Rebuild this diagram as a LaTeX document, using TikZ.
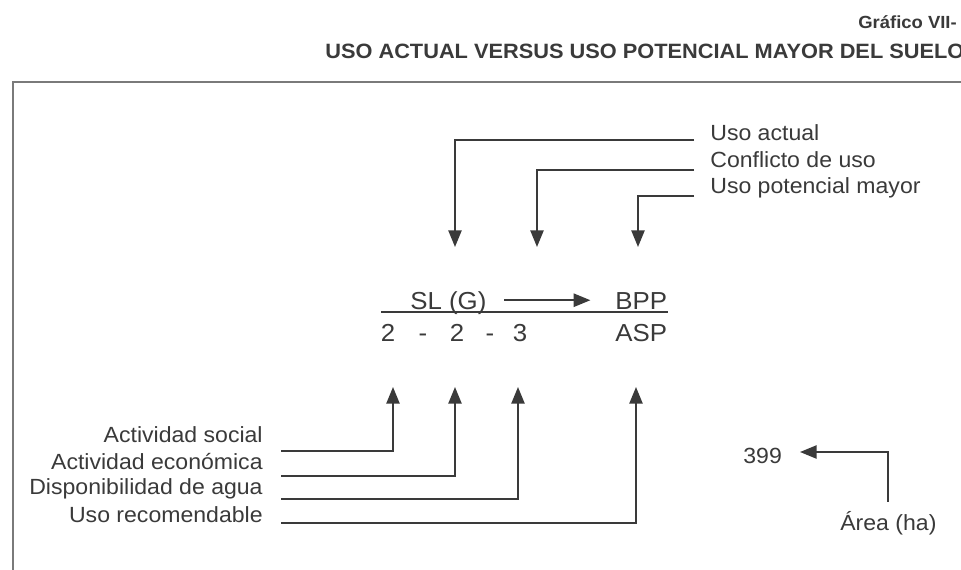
\documentclass[tikz,border=0pt]{standalone}
\usepackage{fontspec}
\setmainfont{Liberation Sans}[FakeStretch=1.05]
\usepackage{tikz}
\usetikzlibrary{arrows.meta}
\usetikzlibrary{positioning}
\definecolor{ink}{HTML}{3A3A3A}
\definecolor{rule}{HTML}{7A7A7A}
\tikzstyle{textNode} = [inner sep=0pt, text=ink, font=\fontsize{12.5}{15}\selectfont]
\tikzstyle{formulaNode} = [inner sep=0pt, text=ink, font=\fontsize{14}{17}\selectfont]
\tikzstyle{titleNode} = [inner sep=0pt, text=ink, font=\bfseries\fontsize{11.8}{14}\selectfont]
\tikzstyle{subtitleNode} = [inner sep=0pt, text=ink, font=\bfseries\fontsize{10}{12}\selectfont]
\tikzstyle{arrow} = [line width=1.1pt, draw=ink, ->, >={Triangle[length=9.5pt,width=7.5pt]}]
\tikzstyle{link} = [line width=1.1pt, draw=ink]
\tikzstyle{frame} = [line width=1.2pt, draw=rule]

\begin{document}
\begin{tikzpicture}[x=0.02cm, y=-0.02cm]
\useasboundingbox [fill=white] (0,0) rectangle (961,569);
% headings and frame
\node (grafico) [subtitleNode, anchor=base west] at (858,28) {Gráfico VII-};
\node (titulo) [titleNode, anchor=base west] at (325,58) {USO ACTUAL VERSUS USO POTENCIAL MAYOR DEL SUELO};
\draw [frame] (13,575) -- (13,82) -- (975,82);

% code of the unit
\node (sl) [formulaNode, anchor=base west] at (410,309) {SL (G)};
\node (bpp) [formulaNode, anchor=base west] at (615,309) {BPP};
\node (d1) [formulaNode, anchor=base] at (388,341) {2};
\node (g1) [formulaNode, anchor=base] at (423,341) {-};
\node (d2) [formulaNode, anchor=base] at (457,341) {2};
\node (g2) [formulaNode, anchor=base] at (490,341) {-};
\node (d3) [formulaNode, anchor=base] at (520,341) {3};
\node (asp) [formulaNode, anchor=base west] at (615,341) {ASP};
\draw [link] (381,312) -- (668,312);
\draw [arrow, shorten <=10pt, shorten >=14pt] ([yshift=5pt]sl.base east) -- ([yshift=5pt]bpp.base west);

% arrow ends
\coordinate (slTop) at (455,247);
\coordinate (conflictoTop) at (537,247);
\coordinate (bppTop) at (638,247);
\coordinate (d1Bot) at (393,387);
\coordinate (d2Bot) at (455,387);
\coordinate (d3Bot) at (518,387);
\coordinate (aspBot) at (636,387);
\coordinate (n399In) at (800,452);

% upper keys
\node (actual) [textNode, anchor=base west] at (710,140) {Uso actual};
\node (conflicto) [textNode, anchor=base west] at (710,167) {Conflicto de uso};
\node (potencial) [textNode, anchor=base west] at (710,193) {Uso potencial mayor};
\draw [arrow] ([shift={(-16,0)}]actual.base west) -| (slTop);
\draw [arrow] ([shift={(-16,3)}]conflicto.base west) -| (conflictoTop);
\draw [arrow] ([shift={(-16,3)}]potencial.base west) -| (bppTop);

% lower keys
\node (social) [textNode, anchor=base east] at (263,442) {Actividad social};
\node (economica) [textNode, anchor=base east] at (263,469) {Actividad económica};
\node (agua) [textNode, anchor=base east] at (263,494) {Disponibilidad de agua};
\node (recomendable) [textNode, anchor=base east] at (263,522) {Uso recomendable};
\draw [arrow] ([shift={(18,9)}]social.base east) -| (d1Bot);
\draw [arrow] ([shift={(18,7)}]economica.base east) -| (d2Bot);
\draw [arrow] ([shift={(18,5)}]agua.base east) -| (d3Bot);
\draw [arrow] ([shift={(18,1)}]recomendable.base east) -| (aspBot);

% area
\node (n399) [textNode, anchor=base west] at (743,463) {399};
\node (area) [textNode, anchor=base west] at (840,530) {Área (ha)};
\draw [arrow] ([yshift=5pt]area.north) |- (n399In);
\end{tikzpicture}
\end{document}
